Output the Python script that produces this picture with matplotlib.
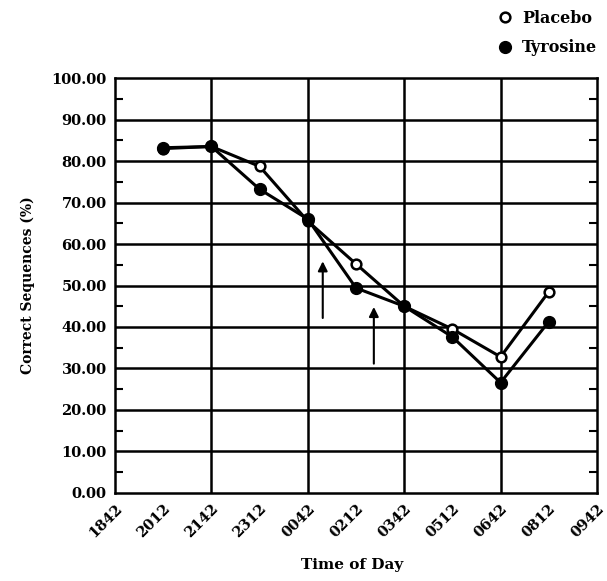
import numpy as np
from matplotlib import pyplot as plt
from matplotlib.ticker import MultipleLocator, FixedLocator

times = ['1842', '2012', '2142', '2312', '0042', '0212', '0342', '0512', '0642', '0812', '0942']
data_idx = [1, 2, 3, 4, 5, 6, 7, 8, 9]
placebo = [83.0, 83.5, 78.7, 65.5, 55.2, 45.0, 39.5, 32.8, 48.5]
tyrosine = [83.2, 83.5, 73.2, 66.0, 49.4, 45.0, 37.6, 26.6, 41.3]

# arrows: (x index, from, to)
arrows = [(4.31, 41.5, 56.5), (5.37, 30.5, 45.5)]

plt.rcParams['font.family'] = 'DejaVu Serif'
plt.rcParams['font.weight'] = 'bold'
plt.rcParams['axes.labelweight'] = 'bold'

fig = plt.figure(figsize=(6.07, 5.81), dpi=100)
ax = fig.add_axes([0.1895, 0.1515, 0.794, 0.7142])

ax.plot(data_idx, placebo, color='black', lw=2.2, marker='o', ms=7,
        mfc='white', mec='black', mew=1.8, label='Placebo', zorder=3)
ax.plot(data_idx, tyrosine, color='black', lw=2.2, marker='o', ms=8.5,
        mfc='black', mec='black', label='Tyrosine', zorder=4)

for x, y0, y1 in arrows:
    ax.annotate('', xy=(x, y1), xytext=(x, y0),
                arrowprops=dict(arrowstyle='-|>', color='black', lw=1.5, mutation_scale=14))

ax.set_xlim(0, 10)
ax.set_ylim(0, 100)
ax.xaxis.set_major_locator(FixedLocator(range(11)))
ax.set_xticklabels(times, rotation=45, ha='right', rotation_mode='anchor', fontsize=10.5)
ax.xaxis.set_minor_locator(FixedLocator([1, 3, 5, 7, 9]))
ax.yaxis.set_major_locator(MultipleLocator(10))
ax.yaxis.set_minor_locator(MultipleLocator(5))
ax.set_yticks(np.arange(0, 101, 10))
ax.set_yticklabels(['%.2f' % v for v in np.arange(0, 101, 10)], fontsize=10.5)

ax.tick_params(axis='both', which='major', length=0, pad=6)
ax.tick_params(axis='y', which='minor', direction='in', length=6, width=1.5, left=True, right=True)
ax.tick_params(axis='x', which='minor', direction='in', length=6, width=1.2)

for v in range(10, 100, 10):
    ax.axhline(v, color='black', lw=1.8, zorder=1)
for v in [2, 4, 6, 8]:
    ax.axvline(v, color='black', lw=1.8, zorder=1)
for s in ax.spines.values():
    s.set_linewidth(1.8)

ax.set_ylabel('Correct Sequences (%)', fontsize=10, labelpad=12)
fig.text(0.58, 0.027, 'Time of Day', ha='center', va='center', fontsize=11, fontweight='bold')

ax.legend(loc='upper right', bbox_to_anchor=(1.0, 1.0), bbox_transform=fig.transFigure,
          frameon=False, handlelength=0, handletextpad=1.1, labelspacing=0.8,
          fontsize=11.5, borderaxespad=0.2)

plt.savefig('out.png', dpi=100)
plt.close()
